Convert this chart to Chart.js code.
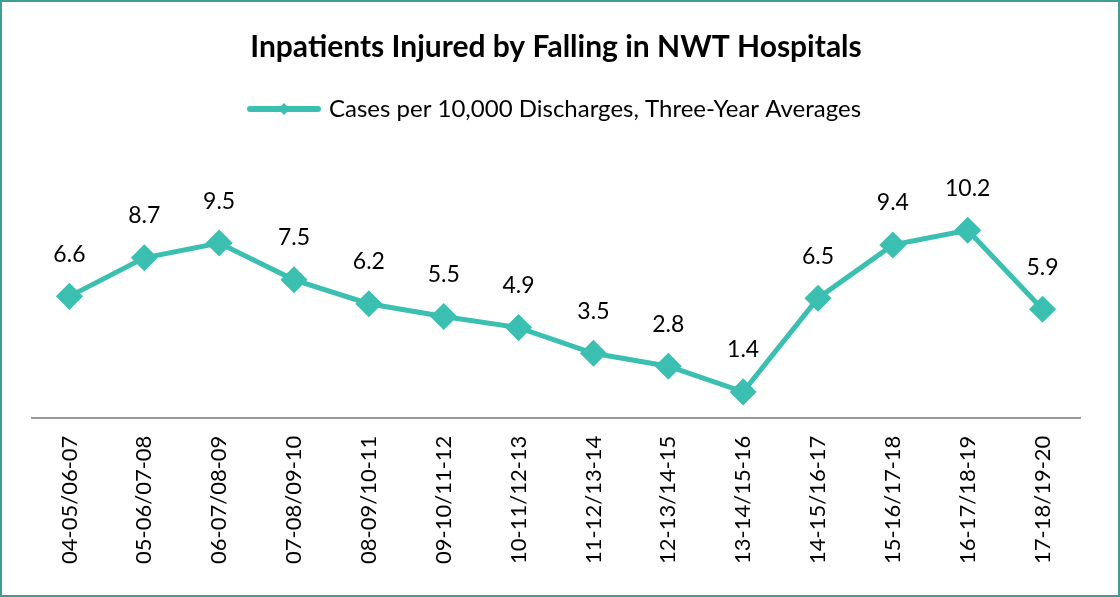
<!DOCTYPE html>
<html>
<head>
<meta charset="utf-8">
<script src="https://cdn.jsdelivr.net/npm/chart.js@4"></script>
<style>
  html, body { margin: 0; padding: 0; background: #fff; }
  #wrap { position: relative; width: 1116px; height: 593px; border: 2px solid #3E9E94; }
</style>
</head>
<body>
<div id="wrap"><canvas id="grafico" width="1116" height="593"></canvas></div>
<script>
const periodos = ['04-05/06-07', '05-06/07-08', '06-07/08-09', '07-08/09-10', '08-09/10-11',
  '09-10/11-12', '10-11/12-13', '11-12/13-14', '12-13/14-15', '13-14/15-16',
  '14-15/16-17', '15-16/17-18', '16-17/18-19', '17-18/19-20'];
const casos = [6.6, 8.7, 9.5, 7.5, 6.2, 5.5, 4.9, 3.5, 2.8, 1.4, 6.5, 9.4, 10.2, 5.9];
const corLinha = '#3ABFB1';
const fonte = 'Lato, Carlito, Calibri, sans-serif';

// marcador da legenda: linha com losango
const marcador = document.createElement('canvas');
marcador.width = 76;
marcador.height = 16;
const mctx = marcador.getContext('2d');
mctx.strokeStyle = corLinha;
mctx.lineWidth = 6;
mctx.lineCap = 'round';
mctx.beginPath();
mctx.moveTo(4, 8);
mctx.lineTo(72, 8);
mctx.stroke();
mctx.fillStyle = corLinha;
mctx.beginPath();
mctx.moveTo(38, 2);
mctx.lineTo(44, 8);
mctx.lineTo(38, 14);
mctx.lineTo(32, 8);
mctx.closePath();
mctx.fill();

// rótulos de dados acima dos pontos
const rotulos = {
  id: 'rotulos',
  afterDatasetsDraw(chart) {
    const ctx = chart.ctx;
    const meta = chart.getDatasetMeta(0);
    ctx.save();
    ctx.font = '23px ' + fonte;
    ctx.fillStyle = '#000';
    ctx.textAlign = 'center';
    ctx.textBaseline = 'middle';
    meta.data.forEach((pt, i) => {
      ctx.fillText(casos[i].toFixed(1), pt.x, pt.y - 42);
    });
    ctx.restore();
  }
};

new Chart(document.getElementById('grafico'), {
  type: 'line',
  data: {
    labels: periodos,
    datasets: [{
      label: 'Cases per 10,000 Discharges, Three-Year Averages',
      data: casos,
      borderColor: corLinha,
      backgroundColor: corLinha,
      borderWidth: 5,
      pointStyle: 'rectRot',
      pointRadius: 10,
      pointHoverRadius: 10,
      tension: 0
    }]
  },
  options: {
    responsive: false,
    animation: false,
    layout: { padding: { left: 30, right: 38, top: 27, bottom: 13 } },
    plugins: {
      title: {
        display: true,
        text: 'Inpatients Injured by Falling in NWT Hospitals',
        color: '#000',
        font: { family: fonte, size: 30, weight: 'bold' },
        padding: { top: 0, bottom: 22 }
      },
      legend: {
        labels: {
          color: '#000',
          font: { family: fonte, size: 24 },
          usePointStyle: true,
          pointStyleWidth: 66,
          generateLabels: (chart) => [{
            text: chart.data.datasets[0].label,
            pointStyle: marcador,
            fillStyle: corLinha,
            strokeStyle: corLinha,
            lineWidth: 0,
            datasetIndex: 0
          }]
        }
      },
      tooltip: { enabled: false }
    },
    scales: {
      x: {
        offset: true,
        grid: { display: false, drawTicks: false },
        border: { color: '#999', width: 2 },
        ticks: {
          color: '#000',
          font: { family: fonte, size: 22 },
          maxRotation: 90,
          minRotation: 90,
          padding: 18
        }
      },
      y: {
        display: false,
        min: 0,
        max: 15.6
      }
    }
  },
  plugins: [rotulos]
});
</script>
</body>
</html>
